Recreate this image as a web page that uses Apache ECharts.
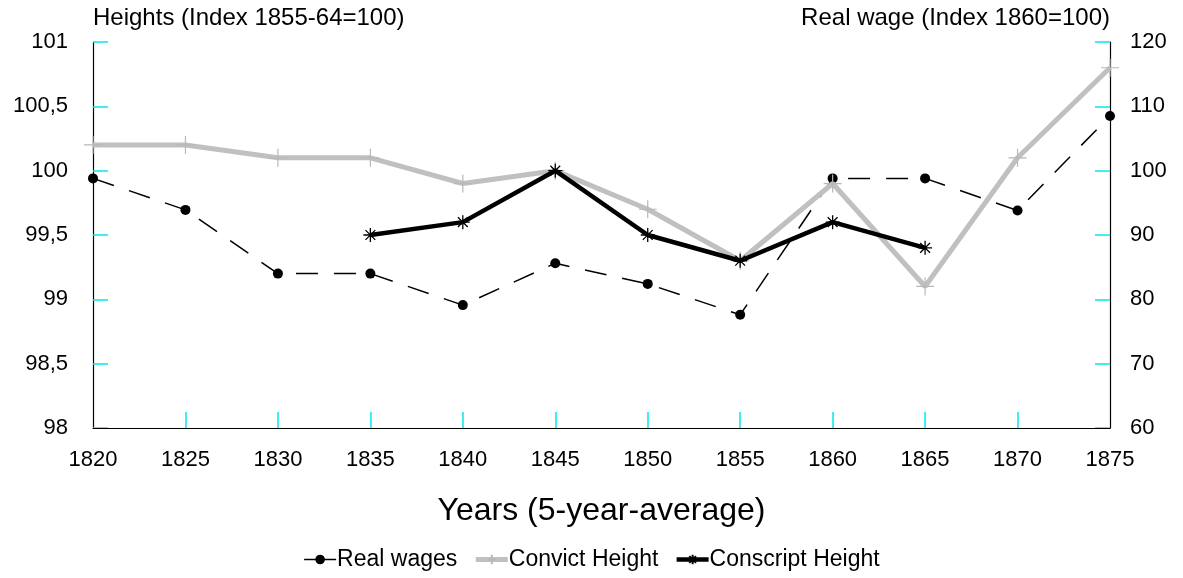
<!DOCTYPE html>
<html>
<head>
<meta charset="utf-8">
<script src="https://cdn.jsdelivr.net/npm/echarts@6/dist/echarts.min.js"></script>
<style>html,body{margin:0;padding:0;background:#fff;}#c{width:1183px;height:578px;}</style>
</head>
<body>
<div id="c"></div>
<script>
const years = ['1820','1825','1830','1835','1840','1845','1850','1855','1860','1865','1870','1875'];
const realWages = [98.8, 93.9, 84.0, 84.0, 79.1, 85.6, 82.4, 77.6, 98.8, 98.8, 93.8, 108.5];
const convictHeight = [100.2, 100.2, 100.1, 100.1, 99.9, 100.0, 99.7, 99.3, 99.9, 99.1, 100.1, 100.8];
const conscriptHeight = [null, null, null, 99.5, 99.6, 100.0, 99.5, 99.3, 99.6, 99.4, null, null];
const leftName = 'Heights (Index 1855-64=100)';
const rightName = 'Real wage (Index 1860=100)';
const xName = 'Years (5-year-average)';

const FONT = '"Liberation Sans", Arial, sans-serif';
const TICK = '#00e8f0';
const chart = echarts.init(document.getElementById('c'), null, {renderer: 'canvas'});
chart.setOption({
  animation: false,
  backgroundColor: '#fff',
  textStyle: {fontFamily: FONT, color: '#000'},
  grid: {left: 93, right: 73, top: 42, bottom: 150, containLabel: false},
  legend: {
    bottom: 2, left: 'center', itemWidth: 32, itemHeight: 12, itemGap: 16,
    textStyle: {fontFamily: FONT, fontSize: 23, color: '#000', padding: [0,0,0,-4]},
    data: [
      {name: 'Real wages', lineStyle: {width: 1.5, type: 'solid'}},
      {name: 'Convict Height', lineStyle: {width: 5}},
      {name: 'Conscript Height', lineStyle: {width: 4.5}}
    ]
  },
  xAxis: {
    type: 'category', data: years, boundaryGap: false, z: 3,
    name: xName, nameLocation: 'middle', nameGap: 67,
    nameTextStyle: {fontFamily: FONT, fontSize: 32, color: '#000'},
    axisLine: {lineStyle: {color: '#000', width: 1.2}},
    axisTick: {inside: true, length: 16, lineStyle: {color: TICK, width: 1.5},
      interval: function (i) { return i > 0 && i < years.length - 1; }},
    axisLabel: {fontFamily: FONT, fontSize: 22, color: '#000', margin: 21},
    splitLine: {show: false}
  },
  yAxis: [{
    type: 'value', min: 98, max: 101, interval: 0.5, position: 'left',
    name: leftName, nameLocation: 'end', nameGap: 12,
    nameTextStyle: {fontFamily: FONT, fontSize: 24, color: '#000', align: 'left'},
    axisLine: {show: true, lineStyle: {color: '#000', width: 1.2}},
    axisTick: {show: true, inside: true, length: 15, lineStyle: {color: TICK, width: 1.5}},
    axisLabel: {fontFamily: FONT, fontSize: 22, color: '#000', margin: 25,
      formatter: v => String(v).replace('.', ',')},
    splitLine: {show: false}
  }, {
    type: 'value', min: 60, max: 120, interval: 10, position: 'right',
    name: rightName, nameLocation: 'end', nameGap: 12,
    nameTextStyle: {fontFamily: FONT, fontSize: 24, color: '#000', align: 'right'},
    axisLine: {show: true, lineStyle: {color: '#000', width: 1.2}},
    axisTick: {show: true, inside: true, length: 15, lineStyle: {color: TICK, width: 1.5}},
    axisLabel: {fontFamily: FONT, fontSize: 22, color: '#000', margin: 20},
    splitLine: {show: false}
  }],
  series: [{
    name: 'Real wages', type: 'line', yAxisIndex: 1, data: realWages,
    color: '#000',
    symbol: 'circle', symbolSize: 10,
    lineStyle: {color: '#000', width: 1.5, type: [22, 16]},
    itemStyle: {color: '#000'}, z: 2
  }, {
    name: 'Convict Height', type: 'line', yAxisIndex: 0, data: convictHeight,
    color: '#c0c0c0',
    symbol: 'path://M0,10L20,10M10,0L10,20', symbolSize: 18,
    lineStyle: {color: '#c0c0c0', width: 5},
    itemStyle: {color: '#c0c0c0', borderColor: '#b8b8b8', borderWidth: 1.2}, z: 3
  }, {
    name: 'Conscript Height', type: 'line', yAxisIndex: 0, data: conscriptHeight,
    color: '#000',
    symbol: 'path://M0,10L20,10M10,0L10,20M3,3L17,17M17,3L3,17', symbolSize: 14,
    lineStyle: {color: '#000', width: 4.5},
    itemStyle: {color: '#000', borderColor: '#000', borderWidth: 1.3}, z: 4
  }]
});
</script>
</body>
</html>
